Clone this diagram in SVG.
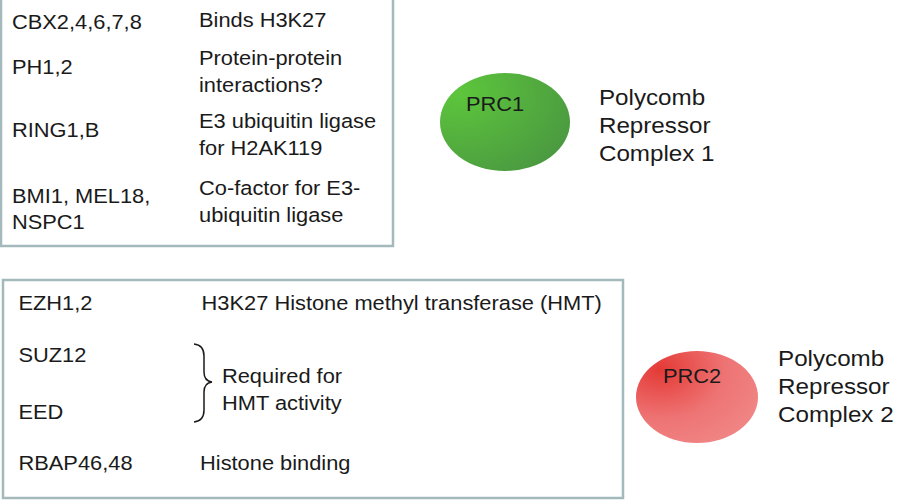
<svg xmlns="http://www.w3.org/2000/svg" width="914" height="504" viewBox="0 0 914 504">
<style>
.t{font-family:"Liberation Sans",Arial,sans-serif;font-size:19.5px;fill:#1a1a1a}
.l{font-family:"Liberation Sans",Arial,sans-serif;font-size:22px;fill:#1a1a1a}
.box{fill:#fff;stroke:#a3b9bc;stroke-width:2.5}
</style>
<defs>
<radialGradient id="g1" cx="0.15" cy="0.2" r="0.95">
<stop offset="0" stop-color="#5dc63c"/><stop offset="1" stop-color="#4b9a40"/>
</radialGradient>
<radialGradient id="g2" cx="0.2" cy="0.2" r="0.9">
<stop offset="0" stop-color="#e43a36"/><stop offset="0.6" stop-color="#ee7474"/><stop offset="1" stop-color="#f08484"/>
</radialGradient>
</defs>
<rect width="914" height="504" fill="#fff"/>
<g id="prc1-table">
<rect class="box" x="1" y="-3" width="392" height="249"/>
<g transform="scale(1.12,1)">
<text class="t" x="10.7" y="29">CBX2,4,6,7,8</text>
<text class="t" x="177.7" y="27">Binds H3K27</text>
<text class="t" x="10.7" y="74">PH1,2</text>
<text class="t" x="177.7" y="65">Protein-protein</text>
<text class="t" x="177.7" y="92">interactions?</text>
<text class="t" x="10.7" y="137">RING1,B</text>
<text class="t" x="177.7" y="128">E3 ubiquitin ligase</text>
<text class="t" x="177.7" y="155">for H2AK119</text>
<text class="t" x="10.7" y="203">BMI1, MEL18,</text>
<text class="t" x="10.7" y="229">NSPC1</text>
<text class="t" x="177.7" y="195">Co-factor for E3-</text>
<text class="t" x="177.7" y="222">ubiquitin ligase</text>
</g>
</g>
<g id="prc2-table">
<rect class="box" x="3" y="280" width="620" height="218"/>
<g transform="scale(1.12,1)">
<text class="t" x="16.5" y="310">EZH1,2</text>
<text class="t" x="180" y="310">H3K27 Histone methyl transferase (HMT)</text>
<text class="t" x="16.5" y="362">SUZ12</text>
<text class="t" x="16.5" y="419">EED</text>
<text class="t" x="198.2" y="383">Required for</text>
<text class="t" x="198.2" y="410">HMT activity</text>
<text class="t" x="16.5" y="470">RBAP46,48</text>
<text class="t" x="178.6" y="470">Histone binding</text>
</g>
<path d="M194,344 Q204,345 204,356 L204,372 Q204,381 212,382 Q204,383 204,392 L204,410 Q204,421 194,422" fill="none" stroke="#1a1a1a" stroke-width="1.5"/>
</g>
<g id="prc1">
<ellipse cx="505" cy="122" rx="65" ry="49" fill="url(#g1)"/>
<text class="t" transform="scale(1.12,1)" x="416" y="111">PRC1</text>
<g transform="scale(1.1,1)">
<text class="l" x="544.5" y="105">Polycomb</text>
<text class="l" x="544.5" y="133">Repressor</text>
<text class="l" x="544.5" y="161">Complex 1</text>
</g>
</g>
<g id="prc2">
<ellipse cx="697" cy="397" rx="61" ry="46" fill="url(#g2)"/>
<text class="t" transform="scale(1.12,1)" x="592" y="383">PRC2</text>
<g transform="scale(1.1,1)">
<text class="l" x="707.3" y="366">Polycomb</text>
<text class="l" x="707.3" y="394">Repressor</text>
<text class="l" x="707.3" y="422">Complex 2</text>
</g>
</g>
<g id="connectors"/>
</svg>
